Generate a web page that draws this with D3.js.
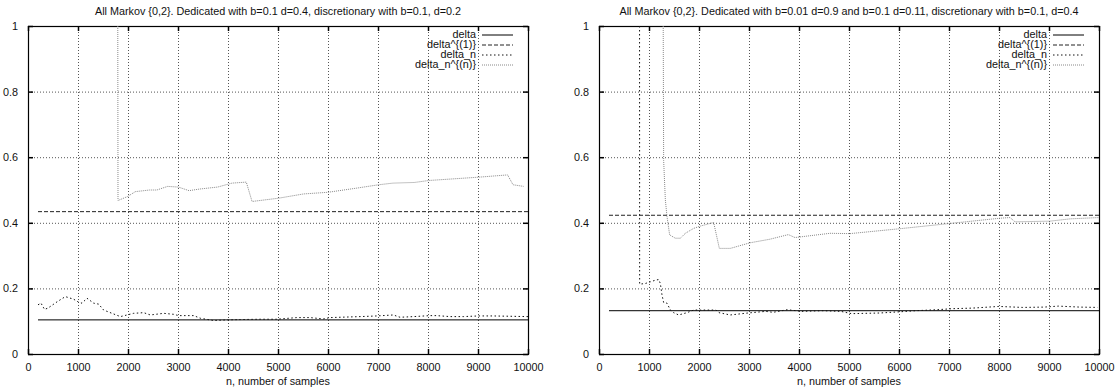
<!DOCTYPE html>
<html>
<head>
<meta charset="utf-8">
<script src="https://cdn.jsdelivr.net/npm/d3@7"></script>
<style>
  body { margin: 0; background: #fff; }
  svg text { font-family: "Liberation Sans", Arial, sans-serif; font-size: 10.8px; fill: #111; }
</style>
</head>
<body>
<svg id="chart" width="1118" height="390"></svg>
<script>
// tick values / labels
const xTicks = [0, 1000, 2000, 3000, 4000, 5000, 6000, 7000, 8000, 9000, 10000];
const yTicks = [0, 0.2, 0.4, 0.6, 0.8, 1];
const legendLabels = ["delta", "delta^{(1)}", "delta_n", "delta_n^{(n)}"];
const titles = [
  "All Markov {0,2}. Dedicated with b=0.1 d=0.4, discretionary with b=0.1, d=0.2",
  "All Markov {0,2}. Dedicated with b=0.01 d=0.9 and b=0.1 d=0.11, discretionary with b=0.1, d=0.4"
];
const xLabel = "n, number of samples";

// left panel series  [n, value]
const leftDelta = [[200, 0.104], [10000, 0.104]];
const leftDelta1 = [[200, 0.434], [10000, 0.434]];
const leftDeltaN = [[200, 0.150], [260, 0.155], [330, 0.136], [400, 0.140], [580, 0.159], [747, 0.175],
  [913, 0.167], [1013, 0.158], [1080, 0.155], [1180, 0.170], [1313, 0.155], [1413, 0.152], [1513, 0.134],
  [1680, 0.124], [1847, 0.114], [1980, 0.119], [2113, 0.124], [2313, 0.126], [2447, 0.119], [2713, 0.124],
  [2913, 0.121], [3013, 0.117], [3313, 0.117], [3447, 0.109], [3713, 0.102], [3980, 0.104], [4250, 0.105],
  [4640, 0.106], [4973, 0.106], [5373, 0.111], [5640, 0.111], [5907, 0.107], [6040, 0.111], [6640, 0.114],
  [6973, 0.116], [7307, 0.119], [7440, 0.112], [7707, 0.114], [8040, 0.117], [8173, 0.117], [8440, 0.114],
  [8707, 0.114], [9007, 0.116], [9307, 0.116], [10000, 0.114]];
const leftDeltaNn = [[1780, 3.0], [1800, 0.468], [1990, 0.48], [2147, 0.495], [2434, 0.50], [2577, 0.50],
  [2792, 0.511], [3006, 0.509], [3221, 0.498], [3436, 0.503], [3794, 0.509], [4080, 0.521], [4366, 0.524],
  [4481, 0.465], [5011, 0.475], [5512, 0.488], [5999, 0.493], [6586, 0.506], [7015, 0.516], [7301, 0.521],
  [7731, 0.523], [8017, 0.529], [9005, 0.539], [9592, 0.546], [9700, 0.516], [9914, 0.511]];

// right panel series
const rightDelta = [[200, 0.132], [10000, 0.132]];
const rightDelta1 = [[200, 0.423], [10000, 0.423]];
const rightDeltaN = [[806, 3.0], [813, 0.213], [927, 0.215], [1027, 0.220], [1127, 0.225], [1193, 0.227],
  [1227, 0.215], [1260, 0.180], [1293, 0.157], [1360, 0.155], [1427, 0.134], [1493, 0.126], [1593, 0.119],
  [1760, 0.126], [1893, 0.134], [2027, 0.134], [2340, 0.134], [2400, 0.126], [2625, 0.119], [2981, 0.125],
  [3338, 0.130], [3481, 0.127], [3766, 0.135], [4051, 0.130], [4479, 0.132], [4836, 0.130], [5050, 0.123],
  [5620, 0.125], [6048, 0.129], [6334, 0.132], [6762, 0.135], [7047, 0.138], [7475, 0.140], [7995, 0.145],
  [8474, 0.142], [8902, 0.143], [9187, 0.146], [9615, 0.143], [9971, 0.142]];
const rightDeltaNn = [[1240, 3.0], [1293, 0.59], [1327, 0.47], [1360, 0.419], [1413, 0.363], [1527, 0.353],
  [1627, 0.353], [1727, 0.368], [1893, 0.383], [2027, 0.390], [2293, 0.401], [2407, 0.322], [2627, 0.322],
  [3020, 0.339], [3420, 0.350], [3787, 0.364], [3920, 0.355], [4620, 0.368], [5020, 0.367], [6020, 0.382],
  [7020, 0.398], [8020, 0.414], [8220, 0.416], [8320, 0.403], [9020, 0.405], [9420, 0.412], [10000, 0.416]];

// line styles per legend entry
const styles = [
  { stroke: "#000", dash: null, width: 1 },
  { stroke: "#222", dash: "4,2", width: 1 },
  { stroke: "#111", dash: "1.5,2.5", width: 1 },
  { stroke: "#888", dash: "1,1", width: 1 }
];

const panels = [
  { left: 28, right: 528, title: titles[0], series: [leftDelta, leftDelta1, leftDeltaN, leftDeltaNn] },
  { left: 599, right: 1099, title: titles[1], series: [rightDelta, rightDelta1, rightDeltaN, rightDeltaNn] }
];
const plotTop = 26, plotBottom = 354;

const svg = d3.select("#chart");

panels.forEach((p, pi) => {
  const x = d3.scaleLinear().domain([0, 10000]).range([p.left, p.right]);
  const y = d3.scaleLinear().domain([0, 1]).range([plotBottom, plotTop]);
  const g = svg.append("g");

  g.append("clipPath").attr("id", "clip" + pi)
    .append("rect").attr("x", p.left).attr("y", plotTop)
    .attr("width", p.right - p.left).attr("height", plotBottom - plotTop);

  // grid
  g.selectAll(".gx").data(xTicks.slice(1, -1)).join("line")
    .attr("x1", d => x(d) + 0.5).attr("x2", d => x(d) + 0.5)
    .attr("y1", plotTop).attr("y2", plotBottom)
    .attr("stroke", "#555").attr("stroke-dasharray", "1,2");
  g.selectAll(".gy").data(yTicks.slice(1, -1)).join("line")
    .attr("y1", d => y(d) + 0.5).attr("y2", d => y(d) + 0.5)
    .attr("x1", p.left).attr("x2", p.right)
    .attr("stroke", "#555").attr("stroke-dasharray", "1,2");

  // axes (tick marks inside, mirrored)
  const ax = [
    g.append("g").attr("transform", `translate(0,${plotBottom})`).call(d3.axisBottom(x).tickValues(xTicks).tickSize(-5).tickPadding(9).tickFormat(d3.format("d"))),
    g.append("g").attr("transform", `translate(0,${plotTop})`).call(d3.axisTop(x).tickValues(xTicks).tickSize(-5).tickFormat("")),
    g.append("g").attr("transform", `translate(${p.left},0)`).call(d3.axisLeft(y).tickValues(yTicks).tickSize(-5).tickPadding(10).tickFormat(d => d)),
    g.append("g").attr("transform", `translate(${p.right},0)`).call(d3.axisRight(y).tickValues(yTicks).tickSize(-5).tickFormat(""))
  ];
  ax.forEach(a => {
    a.select(".domain").remove();
    a.selectAll("line").attr("stroke", "#000").attr("stroke-width", 1.5);
    a.selectAll("text").attr("font-size", 10.8).attr("fill", "#111")
      .attr("font-family", "Liberation Sans, Arial, sans-serif");
  });

  g.append("rect").attr("x", p.left + 0.5).attr("y", plotTop + 0.5)
    .attr("width", p.right - p.left).attr("height", plotBottom - plotTop)
    .attr("fill", "none").attr("stroke", "#000").attr("stroke-width", 1.2);

  // series
  const line = d3.line().x(d => x(d[0])).y(d => y(d[1]));
  p.series.forEach((s, si) => {
    g.append("path").datum(s)
      .attr("clip-path", `url(#clip${pi})`)
      .attr("d", line)
      .attr("fill", "none")
      .attr("stroke", styles[si].stroke)
      .attr("stroke-width", styles[si].width)
      .attr("stroke-dasharray", styles[si].dash);
  });

  // legend
  const lg = g.append("g");
  legendLabels.forEach((lab, i) => {
    const ly = 34.5 + i * 10;
    lg.append("text").attr("x", p.right - 52).attr("y", ly + 3.5)
      .attr("font-size", 10)
      .attr("text-anchor", "end").text(lab);
    lg.append("line").attr("x1", p.right - 46).attr("x2", p.right - 15)
      .attr("y1", ly + 0.5).attr("y2", ly + 0.5)
      .attr("stroke", styles[i].stroke).attr("stroke-width", styles[i].width)
      .attr("stroke-dasharray", styles[i].dash);
  });

  // title and x label
  g.append("text").attr("x", (p.left + p.right) / 2).attr("y", 14.5)
    .attr("font-size", 11)
    .attr("text-anchor", "middle").text(p.title);
  g.append("text").attr("x", (p.left + p.right) / 2).attr("y", 385)
    .attr("text-anchor", "middle").text(xLabel);
});
</script>
</body>
</html>
